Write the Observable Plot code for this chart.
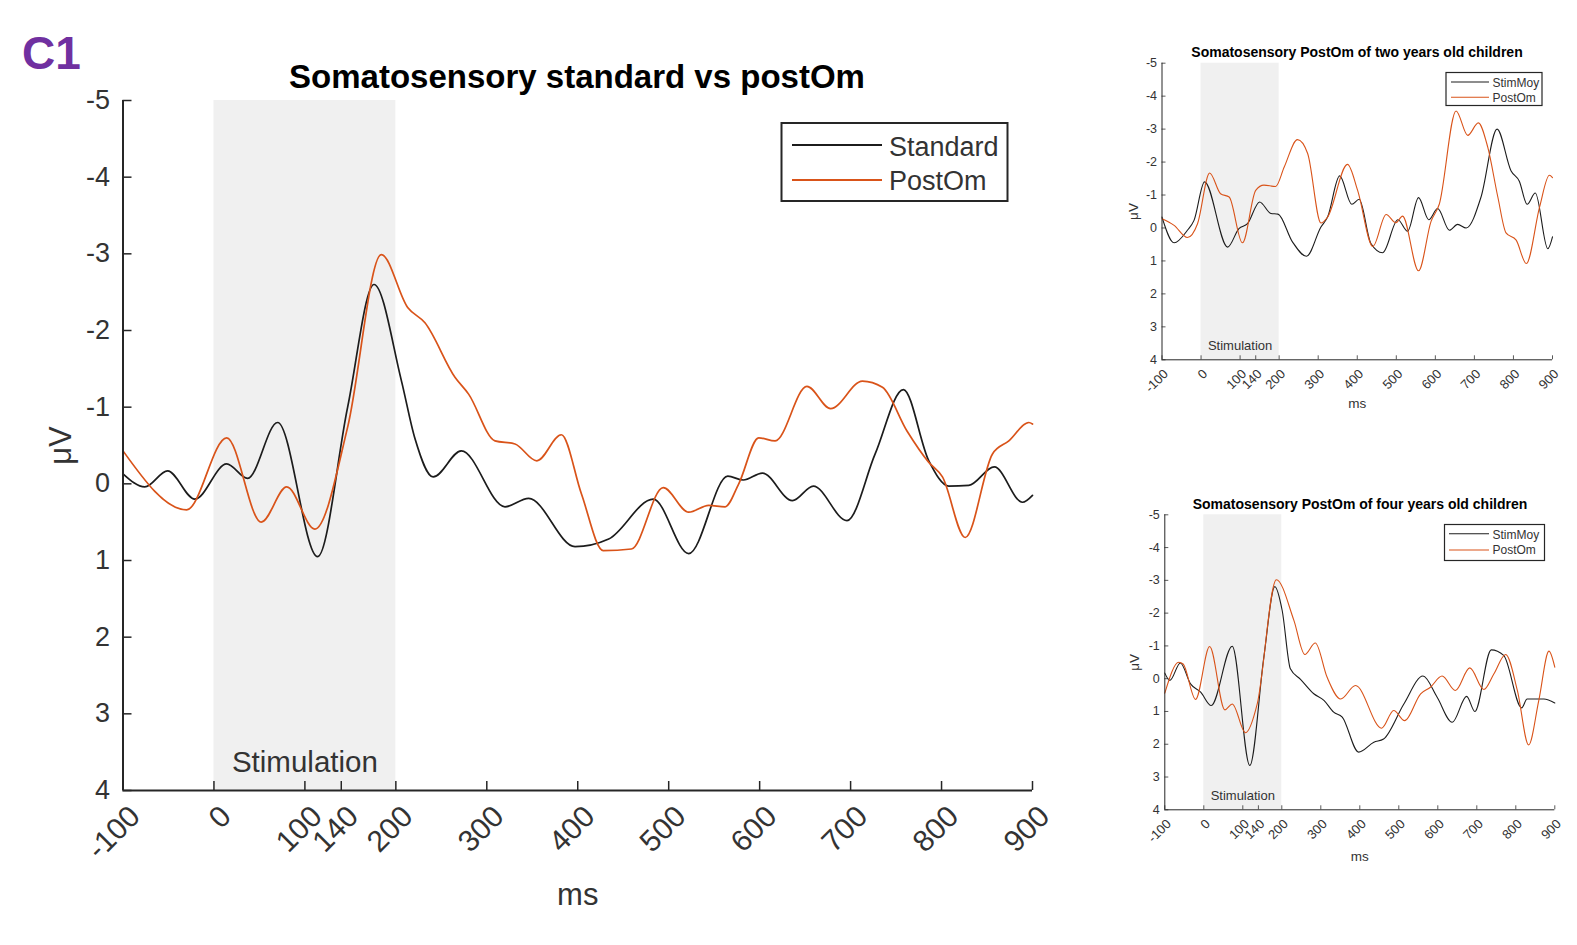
<!DOCTYPE html>
<html>
<head>
<meta charset="utf-8">
<script src="https://cdn.jsdelivr.net/npm/d3@7"></script>
<script src="https://cdn.jsdelivr.net/npm/@observablehq/plot@0.6"></script>
<style>
  html, body { margin: 0; padding: 0; background: #ffffff; }
  #root { position: relative; width: 1577px; height: 945px; overflow: hidden; background: #ffffff;
          font-family: "Liberation Sans", Arial, Helvetica, sans-serif; }
  #root > svg.panel { position: absolute; }
  #overlay { position: absolute; left: 0; top: 0; pointer-events: none; }
</style>
</head>
<body>
<div id="root"></div>
<script>
// ---------------- data ----------------
const xTicks = [-100, 0, 100, 140, 200, 300, 400, 500, 600, 700, 800, 900];
const yTicks = [-5, -4, -3, -2, -1, 0, 1, 2, 3, 4];
const xDomain = [-100, 900];
const yDomain = [-5, 4];
const stimWindow = [{start: 0, end: 200, label: "Stimulation"}];

// Main panel: Standard vs PostOm
const mainStandardMs = [-100, -76, -51, -21, 14, 37, 70, 114, 147, 176, 206, 221, 241, 272, 320, 346, 397, 434, 483, 522, 565, 582, 603, 636, 659, 696, 727, 758, 786, 808, 830, 858, 889, 900];
const mainStandardUv = [-0.13, 0.04, -0.17, 0.20, -0.26, -0.07, -0.80, 0.95, -1.00, -2.60, -1.35, -0.59, -0.09, -0.43, 0.30, 0.19, 0.82, 0.72, 0.20, 0.91, -0.10, -0.05, -0.14, 0.22, 0.03, 0.48, -0.39, -1.23, -0.30, 0.03, 0.02, -0.22, 0.24, 0.15];
const mainPostOmMs = [-100, -30, 14, 52, 80, 111, 147, 184, 213, 232, 265, 280, 309, 331, 355, 382, 404, 428, 459, 494, 522, 544, 562, 577, 599, 617, 652, 678, 713, 735, 762, 786, 801, 826, 856, 874, 896, 900];
const mainPostOmUv = [-0.43, 0.34, -0.60, 0.50, 0.04, 0.59, -0.74, -2.99, -2.30, -2.10, -1.39, -1.17, -0.56, -0.52, -0.30, -0.64, 0.13, 0.87, 0.85, 0.05, 0.37, 0.28, 0.30, 0.00, -0.60, -0.56, -1.27, -0.98, -1.34, -1.26, -0.69, -0.28, -0.09, 0.70, -0.39, -0.56, -0.80, -0.78];

// Two-year-old children
const twoStimMoyMs = [-100, -69, -35, -18, 9, 68, 97, 119, 150, 179, 197, 234, 270, 307, 324, 355, 386, 405, 435, 465, 504, 529, 557, 583, 606, 636, 657, 679, 717, 758, 794, 815, 835, 856, 888, 900];
const twoStimMoyUv = [-0.33, 0.45, 0.07, -0.23, -1.40, 0.58, 0.02, -0.13, -0.79, -0.44, -0.42, 0.42, 0.86, -0.03, -0.33, -1.58, -0.72, -0.87, 0.47, 0.75, -0.25, 0.10, -0.92, -0.25, -0.59, 0.07, -0.11, 0.00, -0.94, -3.00, -1.73, -1.42, -0.72, -1.06, 0.63, 0.27];
const twoPostOmMs = [-100, -69, -35, -9, 22, 50, 72, 106, 140, 161, 191, 213, 247, 273, 307, 324, 375, 401, 440, 474, 499, 516, 557, 589, 610, 653, 683, 710, 734, 760, 781, 807, 833, 867, 892, 900];
const twoPostOmUv = [-0.28, -0.08, 0.29, -0.13, -1.67, -1.04, -0.94, 0.45, -1.14, -1.30, -1.26, -1.85, -2.68, -2.26, -0.15, -0.33, -1.93, -1.14, 0.56, -0.41, -0.16, -0.36, 1.30, -0.20, -0.72, -3.55, -2.81, -3.19, -2.46, -0.94, 0.15, 0.37, 1.08, -0.64, -1.60, -1.53];

// Four-year-old children
const fourStimMoyMs = [-100, -87, -60, -34, -8, 19, 73, 118, 154, 182, 201, 222, 248, 282, 308, 333, 355, 397, 436, 461, 513, 562, 598, 637, 674, 695, 737, 769, 815, 829, 872, 900];
const fourStimMoyUv = [-0.17, 0.05, -0.48, 0.16, 0.41, 0.82, -0.99, 2.65, -0.66, -2.81, -2.08, -0.30, 0.02, 0.46, 0.66, 1.02, 1.17, 2.24, 1.94, 1.84, 0.77, -0.08, 0.56, 1.33, 0.54, 1.00, -0.88, -0.71, 0.89, 0.62, 0.62, 0.74];
const fourPostOmMs = [-100, -64, -53, -21, 15, 54, 73, 107, 137, 186, 231, 259, 286, 316, 351, 389, 456, 487, 515, 556, 581, 611, 645, 682, 718, 744, 774, 804, 833, 859, 885, 900];
const fourPostOmUv = [0.44, -0.50, -0.45, 0.63, -0.98, 0.95, 0.77, 1.65, 0.77, -3.02, -1.78, -0.74, -1.09, -0.05, 0.62, 0.21, 1.51, 0.97, 1.28, 0.46, 0.26, -0.08, 0.36, -0.33, 0.33, -0.15, -0.74, 0.36, 2.02, 0.66, -0.84, -0.35];

// ---------------- helpers ----------------
const AXIS = "#262626";
const LABEL = "#333333";
const BLACK = "#1c1c1c";
const ORANGE = "#D95319";
const FONT = '"Liberation Sans", Arial, Helvetica, sans-serif';

function rows(series, ms, uv) { return ms.map((m, i) => ({series, ms: m, uv: uv[i]})); }
const fmt = d => `${d}`;

function panel(o) {
  const data = [...rows(o.names[0], o.a[0], o.a[1]), ...rows(o.names[1], o.b[0], o.b[1])];
  return Plot.plot({
    width: o.width, height: o.height,
    marginLeft: o.ml, marginRight: o.mr, marginTop: o.mt, marginBottom: o.mb,
    style: {fontFamily: FONT, color: AXIS, background: "transparent", overflow: "visible"},
    x: {domain: xDomain},
    y: {domain: yDomain, reverse: true},
    color: {domain: o.names, range: [BLACK, ORANGE]},
    marks: [
      Plot.rect(stimWindow, {x1: "start", x2: "end", y1: yDomain[0], y2: yDomain[1], fill: "#f0f0f0"}),
      Plot.text(stimWindow, {x: d => (d.start + d.end) / 2, text: "label", frameAnchor: "bottom", lineAnchor: "middle", textAnchor: "middle", dy: -o.stimDy, fontSize: o.sfs, fill: LABEL}),
      Plot.line(data, {x: "ms", y: "uv", z: "series", stroke: "series", curve: "monotone-x", strokeWidth: o.lw}),
      Plot.ruleX([xDomain[0]], {stroke: AXIS, strokeWidth: o.aw}),
      Plot.ruleY([yDomain[1]], {stroke: AXIS, strokeWidth: o.aw}),
      Plot.axisX({ticks: xTicks, tickSize: -o.ts, text: null, label: null, stroke: AXIS, strokeWidth: o.aw * 0.75}),
      Plot.axisY({ticks: yTicks, tickSize: -o.ts, text: null, label: null, stroke: AXIS, strokeWidth: o.aw * 0.75}),
      Plot.axisX({ticks: xTicks, tickSize: 0, tickPadding: o.xpad, tickRotate: -45, dx: o.xdx, tickFormat: fmt, fontSize: o.xfs, fill: LABEL, label: null}),
      Plot.axisY({ticks: yTicks, tickSize: 0, tickPadding: o.ypad, tickFormat: fmt, fontSize: o.fs, fill: LABEL, label: null}),
      Plot.text(["ms"], {text: d => d, frameAnchor: "bottom", lineAnchor: "middle", textAnchor: "middle", dy: o.msDy, fontSize: o.lfs, fill: LABEL}),
      Plot.text(["μV"], {text: d => d, frameAnchor: "left", lineAnchor: "middle", textAnchor: "middle", dx: -o.uvDx, rotate: -90, fontSize: o.lfs, fill: LABEL})
    ]
  });
}

const root = document.getElementById("root");
function place(svg, left, top) {
  svg.classList.add("panel");
  svg.style.left = left + "px";
  svg.style.top = top + "px";
  root.appendChild(svg);
}

// Main panel
place(panel({
  names: ["Standard", "PostOm"],
  a: [mainStandardMs, mainStandardUv], b: [mainPostOmMs, mainPostOmUv],
  width: 1100, height: 945, ml: 122.5, mr: 68, mt: 100, mb: 155,
  fs: 27, xfs: 30, sfs: 29.5, lfs: 31, lw: 1.7, aw: 2, ts: 9, xpad: 21, xdx: 12, ypad: 13,
  stimDy: 28, msDy: 105, uvDx: 62
}), 0, 0);

// Two-year-old panel
place(panel({
  names: ["StimMoy", "PostOm"],
  a: [twoStimMoyMs, twoStimMoyUv], b: [twoPostOmMs, twoPostOmUv],
  width: 477, height: 440, ml: 61.5, mr: 25, mt: 62.7, mb: 80.7,
  fs: 12.5, xfs: 13, sfs: 13, lfs: 13.5, lw: 1.1, aw: 1, ts: 4, xpad: 12, xdx: 4, ypad: 5,
  stimDy: 14, msDy: 44, uvDx: 28.5
}), 1100, 0);

// Four-year-old panel
place(panel({
  names: ["StimMoy", "PostOm"],
  a: [fourStimMoyMs, fourStimMoyUv], b: [fourPostOmMs, fourPostOmUv],
  width: 477, height: 495, ml: 64.3, mr: 22.7, mt: 64.3, mb: 135.7,
  fs: 12.5, xfs: 13, sfs: 13, lfs: 13.5, lw: 1.1, aw: 1, ts: 4, xpad: 12, xdx: 4, ypad: 5,
  stimDy: 14, msDy: 47, uvDx: 30
}), 1100, 450);

// ---------------- overlay: titles, panel tag, legends ----------------
const NS = "http://www.w3.org/2000/svg";
const overlay = document.createElementNS(NS, "svg");
overlay.setAttribute("id", "overlay");
overlay.setAttribute("width", 1577);
overlay.setAttribute("height", 945);
root.appendChild(overlay);
function el(tag, attrs, text) {
  const e = document.createElementNS(NS, tag);
  for (const k in attrs) e.setAttribute(k, attrs[k]);
  if (text != null) e.textContent = text;
  overlay.appendChild(e);
  return e;
}
const panelTag = "C1";
const titles = [
  {text: "Somatosensory standard vs postOm", x: 577, y: 88, size: 33},
  {text: "Somatosensory PostOm of two years old children", x: 1357, y: 57, size: 14},
  {text: "Somatosensory PostOm of four years old children", x: 1360, y: 508.5, size: 14}
];
el("text", {x: 22, y: 69, "font-family": FONT, "font-weight": "bold", "font-size": 46, fill: "#7030A0"}, panelTag);
for (const t of titles) {
  el("text", {x: t.x, y: t.y, "text-anchor": "middle", "font-family": FONT, "font-weight": "bold", "font-size": t.size, fill: "#000"}, t.text);
}
const legends = [
  {names: ["Standard", "PostOm"], box: [781.5, 123, 226, 78], line: [792, 882], ys: [145, 180], tx: 889, base: [156, 190], size: 27, lw: 2, bw: 2},
  {names: ["StimMoy", "PostOm"], box: [1446, 72.5, 96, 33], line: [1451, 1489], ys: [82, 97.3], tx: 1492.5, base: [86.7, 101.7], size: 12, lw: 1.1, bw: 1.2},
  {names: ["StimMoy", "PostOm"], box: [1444.5, 524.5, 100, 36], line: [1449, 1489], ys: [533.7, 550], tx: 1492.5, base: [539, 554.3], size: 12, lw: 1.1, bw: 1.2}
];
for (const L of legends) {
  el("rect", {x: L.box[0], y: L.box[1], width: L.box[2], height: L.box[3], fill: "#fff", stroke: AXIS, "stroke-width": L.bw});
  L.names.forEach((n, i) => {
    el("line", {x1: L.line[0], x2: L.line[1], y1: L.ys[i], y2: L.ys[i], stroke: i === 0 ? BLACK : ORANGE, "stroke-width": L.lw});
    el("text", {x: L.tx, y: L.base[i], "font-family": FONT, "font-size": L.size, fill: LABEL}, n);
  });
}
</script>
</body>
</html>
